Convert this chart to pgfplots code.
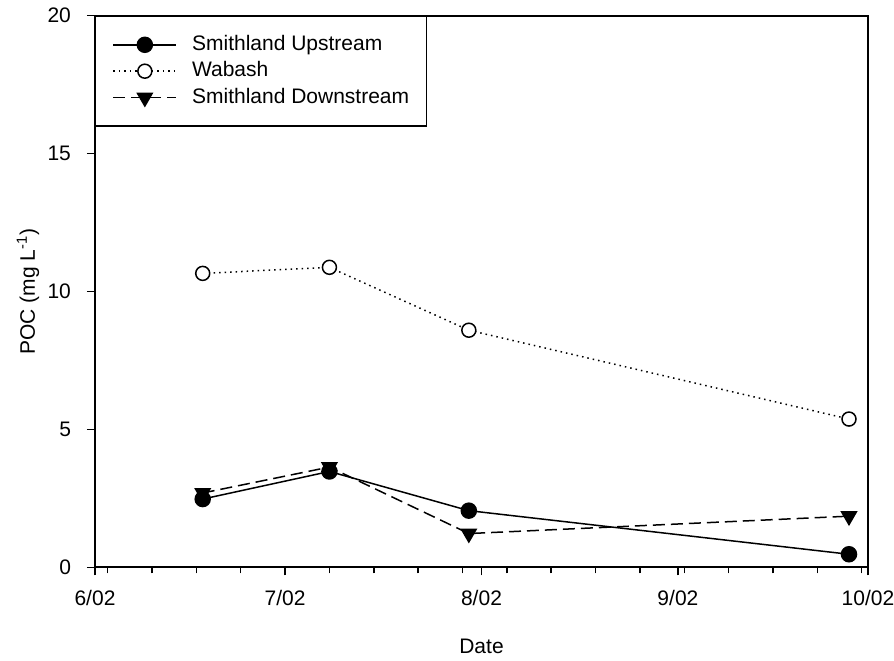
\documentclass[border=0pt]{standalone}
\usepackage{pgfplots}
\pgfplotsset{compat=1.18}
\usepackage{fontspec}
\setmainfont{Liberation Sans}
\begin{document}
\begin{tikzpicture}
\begin{axis}[
  scale only axis, width=386.5pt, height=275.9pt,
  xmin=0, xmax=122, ymin=0, ymax=20,
  xtick={0,30,61,92,122}, xticklabels={6/02,7/02,8/02,9/02,10/02},
  minor xtick={2,9,...,121},
  ytick={0,5,10,15,20},
  tick align=outside, tick pos=left,
  major tick length=4pt, minor tick length=3pt,
  every tick/.style={black, line width=0.75pt},
  axis line style={line width=1pt},
  font=\fontsize{10.5}{12.6}\selectfont,
  xticklabel style={yshift=-4pt},
  yticklabel style={xshift=-4.5pt},
  /pgf/number format/assume math mode=true,
  xlabel={Date}, ylabel={POC (mg L\textsuperscript{-1})},
  every axis x label/.style={at={(axis description cs:0.5,0)}, anchor=center, yshift=-39.25pt},
  every axis y label/.style={at={(axis description cs:0,0.5)}, rotate=90, anchor=center, yshift=33.5pt},
  legend style={at={(0,1)}, anchor=north west, draw=black, line width=0.6pt,
    inner xsep=8.5pt, inner ysep=9pt, row sep=2.7pt,
    nodes={inner sep=0pt, anchor=west, text height=8pt, text depth=2.5pt},
    /tikz/every odd column/.append style={column sep=7.5pt},
    font=\fontsize{10.5}{12.6}\selectfont},
  legend cell align=left,
  legend image code/.code={\draw[mark repeat=2,mark phase=2] plot coordinates {(0pt,0pt)(15.75pt,0pt)(31.5pt,0pt)};},
]
\addplot[black, line width=0.75pt, mark=*, mark size=3.75pt, mark options={solid, fill=black}]
  coordinates {(17,2.48)(37,3.48)(59,2.06)(119,0.48)};
\addlegendentry{Smithland Upstream}
\addplot[black, line width=0.75pt, dotted, mark=*, mark size=3.5pt, mark options={solid, fill=white}]
  coordinates {(17,10.66)(37,10.88)(59,8.60)(119,5.38)};
\addlegendentry{Wabash}
\addplot[black, line width=0.75pt, dash pattern=on 6pt off 3pt, mark=triangle*, mark size=4.2pt, mark options={solid, fill=black, rotate=180}]
  coordinates {(17,2.70)(37,3.64)(59,1.23)(119,1.86)};
\addlegendentry{Smithland Downstream}
\end{axis}
\pgfresetboundingbox
\path[use as bounding box] ([xshift=-47.5pt,yshift=-46.75pt]current axis.south west) rectangle ([xshift=13pt,yshift=7.85pt]current axis.north east);
\end{tikzpicture}
\end{document}
